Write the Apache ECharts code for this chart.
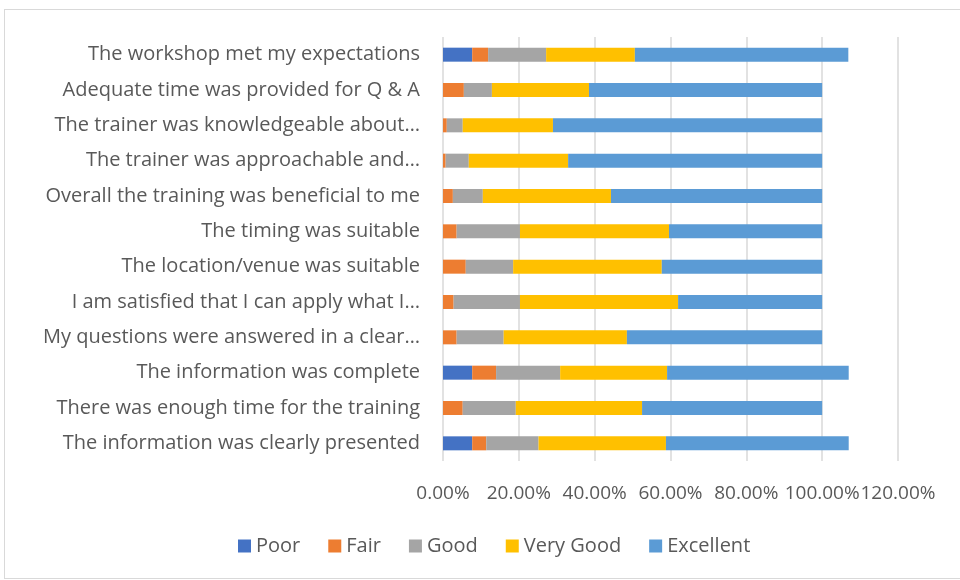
<!DOCTYPE html>
<html lang="en">
<head>
  <meta charset="UTF-8">
  <title>Workshop evaluation</title>
  <style>
    body { margin: 0; background: #fff; }
    #frame { position: absolute; left: 4px; top: 9px; width: 960px; height: 568px; border: 1px solid #d9d9d9; }
    #main { position: absolute; left: 0; top: 0; width: 960px; height: 580px; }
  </style>
</head>
<body>
  <div id="frame"></div>
  <div id="main"></div>
  <script src="https://cdn.jsdelivr.net/npm/echarts@6/dist/echarts.min.js"></script>
  <script>
    // categories, top to bottom as shown
    var questions = [
      'The workshop met my expectations',
      'Adequate time was provided for Q & A',
      'The trainer was knowledgeable about…',
      'The trainer was approachable and…',
      'Overall the training was beneficial to me',
      'The timing was suitable',
      'The location/venue was suitable',
      'I am satisfied that I can apply what I…',
      'My questions were answered in a clear…',
      'The information was complete',
      'There was enough time for the training',
      'The information was clearly presented'
    ];
    var ratings = ['Poor', 'Fair', 'Good', 'Very Good', 'Excellent'];
    var colors = ['#4472C4', '#ED7D31', '#A5A5A5', '#FFC000', '#5B9BD5'];

    // values in percent
    var poor      = [7.7, 0,    0,   0,    0,    0,    0,    0,    0,    7.7,  0,    7.7];
    var fair      = [4.2, 5.5,  1.0, 0.7,  2.6,  3.6,  6.0,  2.8,  3.6,  6.3,  5.2,  3.7];
    var good      = [15.3, 7.4, 4.2, 6.1,  7.9,  16.7, 12.5, 17.5, 12.4, 16.9, 14.0, 13.8];
    var veryGood  = [23.4, 25.6, 23.8, 26.2, 33.8, 39.3, 39.2, 41.7, 32.5, 28.2, 33.3, 33.6];
    var excellent = [56.3, 61.5, 71.0, 67.0, 55.7, 40.4, 42.3, 38.0, 51.5, 47.9, 47.5, 48.2];

    var ticks = [0, 20, 40, 60, 80, 100, 120];

    var seriesData = [poor, fair, good, veryGood, excellent];
    var textColor = '#595959';
    var font = '"Open Sans", sans-serif';

    var myChart = echarts.init(document.getElementById('main'));

    var series = [];
    for (var i = 0; i < ratings.length; i++) {
      series.push({
        name: ratings[i],
        type: 'bar',
        stack: 'total',
        barWidth: 14,
        itemStyle: { color: colors[i] },
        data: seriesData[i]
      });
    }

    var option = {
      animation: false,
      textStyle: { fontFamily: font },
      legend: {
        data: ratings,
        bottom: 19,
        left: 233,
        icon: 'rect',
        itemWidth: 13,
        itemHeight: 13,
        itemGap: 28,
        itemTextGap: 7,
        textStyle: { color: textColor, fontSize: 20, fontFamily: font }
      },
      grid: {
        left: 443,
        right: 62,
        top: 37,
        bottom: 119
      },
      xAxis: {
        type: 'value',
        min: ticks[0],
        max: ticks[ticks.length - 1],
        interval: 20,
        axisLine: { show: false },
        axisTick: { show: false },
        splitLine: { lineStyle: { color: '#d9d9d9', width: 1.5 } },
        axisLabel: {
          color: textColor,
          fontSize: 19,
          margin: 23,
          showMinLabel: true,
          showMaxLabel: true,
          hideOverlap: false,
          formatter: function (v) { return v.toFixed(2) + '%'; }
        }
      },
      yAxis: {
        type: 'category',
        inverse: true,
        data: questions,
        axisLine: { show: false },
        axisTick: { show: false },
        axisLabel: { color: textColor, fontSize: 20, margin: 23 }
      },
      series: series
    };

    myChart.setOption(option);
  </script>
</body>
</html>
